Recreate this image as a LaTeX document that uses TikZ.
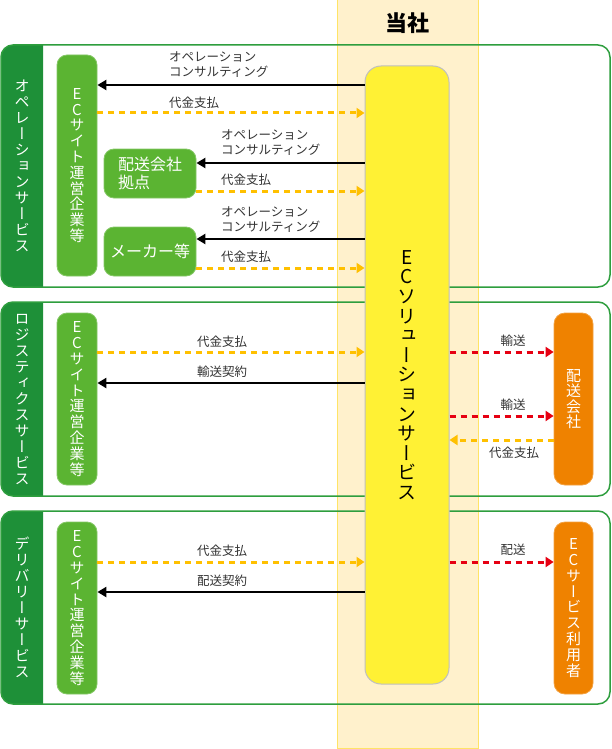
\documentclass[tikz,border=0pt]{standalone}
\usepackage{fontspec}
\setmainfont{Noto Sans CJK JP}
\newfontfamily\tatefont[RawFeature=+vert]{Noto Sans CJK JP}
\usetikzlibrary{arrows.meta, positioning, calc}

\definecolor{tabgreen}{HTML}{1E9038}
\definecolor{linegreen}{HTML}{2E9E3E}
\definecolor{nodegreen}{HTML}{5BB432}
\definecolor{ecorange}{HTML}{EF8200}
\definecolor{bandbeige}{HTML}{FFF1CC}
\definecolor{bandedge}{HTML}{FFE466}
\definecolor{solyellow}{HTML}{FFF134}
\definecolor{payyellow}{HTML}{FFC000}
\definecolor{shipred}{HTML}{E60012}

\tikzset{
  band/.style={fill=bandbeige, draw=bandedge, line width=1pt},
  groupframe/.style={draw=linegreen, line width=1.5pt, rounded corners=12pt},
  tabfill/.style={fill=tabgreen, rounded corners=12pt},
  tabtext/.style={text=white, align=center, inner sep=0pt, font=\tatefont\fontsize{15}{16}\selectfont},
  greenbox/.style={fill=nodegreen, draw=nodegreen!75!white, line width=.8pt, text=white, rounded corners=10pt, inner sep=0pt},
  orangebox/.style={fill=ecorange, draw=ecorange!75!white, line width=.8pt, text=white, rounded corners=11pt, inner sep=0pt},
  solbox/.style={fill=solyellow, draw=black!25, line width=1pt, rounded corners=16pt, inner sep=0pt},
  consult/.style={draw=black, line width=2.7pt, -{Triangle[length=9pt,width=10pt]}},
  payflow/.style={draw=payyellow, line width=3pt, dash pattern=on 6pt off 5pt, -{Triangle[length=8pt,width=10pt]}},
  shipflow/.style={draw=shipred, line width=3pt, dash pattern=on 6pt off 5pt, -{Triangle[length=8pt,width=10pt]}},
  lbl/.style={font=\fontsize{12.5}{15}\selectfont, text=black!80, align=left, inner sep=0pt}
}

\begin{document}
\begin{tikzpicture}[x=1pt, y=-1pt]
\useasboundingbox (0,0) rectangle (611,749);

% company column
\draw[band] (337,0) rectangle (478,748);
\node[font=\bfseries\fontsize{22}{24}\selectfont] (company) at (407,23) {当社};

% service groups
\begin{scope}
  \clip (0,40) rectangle (43,710);
  \fill[tabfill] (1,45) rectangle (60,287);
  \fill[tabfill] (1,302) rectangle (60,496);
  \fill[tabfill] (1,511) rectangle (60,704);
\end{scope}
\draw[groupframe] (1,45) rectangle (610,287);
\draw[groupframe] (1,302) rectangle (610,496);
\draw[groupframe] (1,511) rectangle (610,704);
\node[tabtext] (ops) at (22,166) {オ\\ペ\\レ\\ー\\シ\\ョ\\ン\\サ\\ー\\ビ\\ス};
\node[tabtext] (logi) at (22,400) {ロ\\ジ\\ス\\テ\\ィ\\ク\\ス\\サ\\ー\\ビ\\ス};
\node[tabtext] (deli) at (22,607) {デ\\リ\\バ\\リ\\ー\\サ\\ー\\ビ\\ス};

% solution service
\node[solbox, minimum width=84pt, minimum height=618pt, align=center,
  font=\tatefont\fontsize{19}{19.6}\selectfont] (sol) at (407,375)
  {E\\C\\ソ\\リ\\ュ\\ー\\シ\\ョ\\ン\\サ\\ー\\ビ\\ス};

% partners
\node[greenbox, minimum width=40pt, minimum height=221pt, align=center,
  font=\tatefont\fontsize{15}{15.8}\selectfont] (ec1) at (77,165.5)
  {E\\C\\サ\\イ\\ト\\運\\営\\企\\業\\等};
\node[greenbox, minimum width=92pt, minimum height=49pt, align=left,
  font=\fontsize{16}{18}\selectfont] (hub) at (150,173.5) {配送会社\\拠点};
\node[greenbox, minimum width=92pt, minimum height=49pt,
  font=\fontsize{16}{18}\selectfont] (maker) at (150,251.5) {メーカー等};
\node[greenbox, minimum width=40pt, minimum height=172pt, align=center,
  font=\tatefont\fontsize{15}{15.8}\selectfont] (ec2) at (77,399)
  {E\\C\\サ\\イ\\ト\\運\\営\\企\\業\\等};
\node[greenbox, minimum width=40pt, minimum height=172pt, align=center,
  font=\tatefont\fontsize{15}{15.8}\selectfont] (ec3) at (77,608)
  {E\\C\\サ\\イ\\ト\\運\\営\\企\\業\\等};
\node[orangebox, minimum width=39pt, minimum height=172pt, align=center,
  font=\tatefont\fontsize{15}{15.5}\selectfont] (carrier) at (573.5,399)
  {配\\送\\会\\社};
\node[orangebox, minimum width=39pt, minimum height=172pt, align=center,
  font=\tatefont\fontsize{15}{15.8}\selectfont] (user) at (573.5,608)
  {E\\C\\サ\\ー\\ビ\\ス\\利\\用\\者};

% operation service
\draw[consult] (sol.west |- 0,85) -- (ec1.east |- 0,85);
\draw[payflow] (ec1.east |- 0,113) -- (sol.west |- 0,113);
\draw[consult] (sol.west |- 0,163) -- (hub.east |- 0,163);
\draw[payflow] (hub.east |- 0,191) -- (sol.west |- 0,191);
\draw[consult] (sol.west |- 0,239) -- (maker.east |- 0,239);
\draw[payflow] (maker.east |- 0,268) -- (sol.west |- 0,268);
\node[lbl, anchor=west] (c1) at (169,65) {オペレーション\\コンサルティング};
\node[lbl, anchor=west] (p1) at (169,103) {代金支払};
\node[lbl, anchor=west] (c2) at (221,143) {オペレーション\\コンサルティング};
\node[lbl, anchor=west] (p2) at (221,180) {代金支払};
\node[lbl, anchor=west] (c3) at (221,220) {オペレーション\\コンサルティング};
\node[lbl, anchor=west] (p3) at (221,257) {代金支払};

% logistics service
\draw[payflow] (ec2.east |- 0,352) -- (sol.west |- 0,352);
\draw[consult] (sol.west |- 0,383) -- (ec2.east |- 0,383);
\draw[shipflow] (sol.east |- 0,352) -- (carrier.west |- 0,352);
\draw[shipflow] (sol.east |- 0,416) -- (carrier.west |- 0,416);
\draw[payflow] (carrier.west |- 0,440) -- (sol.east |- 0,440);
\node[lbl] (p4) at (222,342) {代金支払};
\node[lbl] (k1) at (222,372) {輸送契約};
\node[lbl] (s1) at (513,341) {輸送};
\node[lbl] (s2) at (513,405) {輸送};
\node[lbl] (p5) at (514,453) {代金支払};

% delivery service
\draw[payflow] (ec3.east |- 0,562) -- (sol.west |- 0,562);
\draw[consult] (sol.west |- 0,592) -- (ec3.east |- 0,592);
\draw[shipflow] (sol.east |- 0,562) -- (user.west |- 0,562);
\node[lbl] (p6) at (222,551) {代金支払};
\node[lbl] (k2) at (222,581) {配送契約};
\node[lbl] (s3) at (513,550) {配送};
\end{tikzpicture}
\end{document}
